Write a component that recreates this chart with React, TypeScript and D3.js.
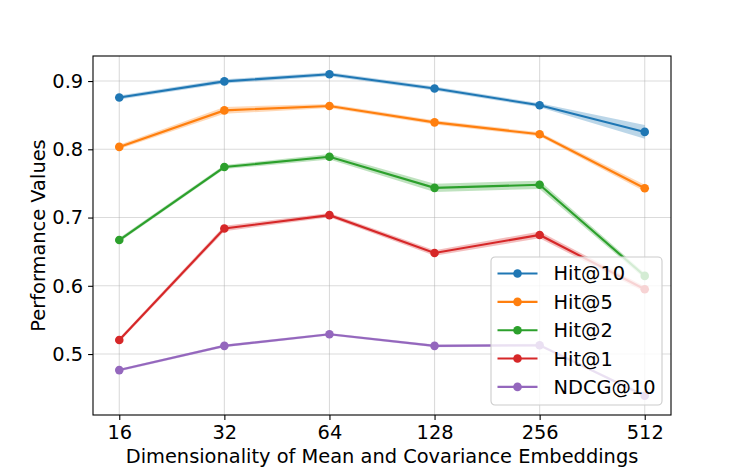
import React, { useEffect, useRef } from 'react';
import * as d3 from 'd3';

const WIDTH = 747;
const HEIGHT = 467;
const MARGIN = { top: 56, right: 76, bottom: 52, left: 93 };

const DIMS = ['16', '32', '64', '128', '256', '512'];
const HIT10 = [0.876, 0.8995, 0.91, 0.889, 0.8645, 0.8255];
const HIT5 = [0.8035, 0.857, 0.8635, 0.8395, 0.822, 0.743];
const HIT2 = [0.667, 0.774, 0.789, 0.7435, 0.748, 0.6145];
const HIT1 = [0.5205, 0.684, 0.7035, 0.648, 0.6745, 0.595];
const NDCG10 = [0.4765, 0.512, 0.529, 0.512, 0.513, 0.439];

// spread of the shaded band around each line
const HIT10_STD = [0.003, 0.003, 0.003, 0.003, 0.003, 0.01];
const HIT5_STD = [0.003, 0.005, 0.003, 0.003, 0.003, 0.005];
const HIT2_STD = [0.003, 0.003, 0.004, 0.006, 0.006, 0.004];
const HIT1_STD = [0.003, 0.004, 0.003, 0.004, 0.005, 0.004];
const NDCG10_STD = [0.002, 0.002, 0.002, 0.002, 0.002, 0.002];

const Y_TICKS = [0.5, 0.6, 0.7, 0.8, 0.9];

const SERIES = [
  { name: 'Hit@10', values: HIT10, std: HIT10_STD, color: '#1f77b4' },
  { name: 'Hit@5', values: HIT5, std: HIT5_STD, color: '#ff7f0e' },
  { name: 'Hit@2', values: HIT2, std: HIT2_STD, color: '#2ca02c' },
  { name: 'Hit@1', values: HIT1, std: HIT1_STD, color: '#d62728' },
  { name: 'NDCG@10', values: NDCG10, std: NDCG10_STD, color: '#9467bd' },
];

const FONT = 'DejaVu Sans, sans-serif';
const FS = 19.4;

const App = () => {
  const ref = useRef<SVGSVGElement>(null);

  useEffect(() => {
    const svg = d3.select(ref.current);
    svg.selectAll('*').remove();

    const w = WIDTH - MARGIN.left - MARGIN.right;
    const h = HEIGHT - MARGIN.top - MARGIN.bottom;

    const x = d3.scalePoint<string>().domain(DIMS).range([0, w]).padding(0.25);
    const y = d3.scaleLinear().domain([0.4107, 0.9367]).range([h, 0]);

    const g = svg.append('g').attr('transform', `translate(${MARGIN.left},${MARGIN.top})`);

    // grid
    g.append('g')
      .selectAll('line')
      .data(DIMS)
      .join('line')
      .attr('x1', (d) => x(d)!)
      .attr('x2', (d) => x(d)!)
      .attr('y1', 0)
      .attr('y2', h)
      .attr('stroke', '#b0b0b0')
      .attr('stroke-opacity', 0.45)
      .attr('stroke-width', 1.1);
    g.append('g')
      .selectAll('line')
      .data(Y_TICKS)
      .join('line')
      .attr('x1', 0)
      .attr('x2', w)
      .attr('y1', (d) => y(d))
      .attr('y2', (d) => y(d))
      .attr('stroke', '#b0b0b0')
      .attr('stroke-opacity', 0.45)
      .attr('stroke-width', 1.1);

    SERIES.forEach((s) => {
      const band = d3
        .area<number>()
        .x((_, i) => x(DIMS[i])!)
        .y0((d, i) => y(d - s.std[i]))
        .y1((d, i) => y(d + s.std[i]));
      g.append('path').attr('d', band(s.values)).attr('fill', s.color).attr('fill-opacity', 0.3);

      const line = d3
        .line<number>()
        .x((_, i) => x(DIMS[i])!)
        .y((d) => y(d));
      g.append('path')
        .attr('d', line(s.values))
        .attr('fill', 'none')
        .attr('stroke', s.color)
        .attr('stroke-width', 2.1);
      g.append('g')
        .selectAll('circle')
        .data(s.values)
        .join('circle')
        .attr('cx', (_, i) => x(DIMS[i])!)
        .attr('cy', (d) => y(d))
        .attr('r', 4.3)
        .attr('fill', s.color);
    });

    // axes
    const xAxis = g
      .append('g')
      .attr('transform', `translate(0,${h})`)
      .call(d3.axisBottom(x).tickSize(4.9).tickPadding(4.9));
    const yAxis = g.append('g').call(
      d3
        .axisLeft(y)
        .tickValues(Y_TICKS)
        .tickFormat(d3.format('.1f'))
        .tickSize(4.9)
        .tickPadding(4.9)
    );
    [xAxis, yAxis].forEach((a) => {
      a.attr('font-size', null).attr('font-family', null);
      a.select('.domain').remove();
      a.selectAll('line').attr('stroke', '#000').attr('stroke-width', 1.1);
      a.selectAll('text')
        .attr('font-family', FONT)
        .attr('font-size', FS)
        .style('font-size', `${FS}px`)
        .attr('fill', '#000');
    });

    // spines
    g.append('rect')
      .attr('width', w)
      .attr('height', h)
      .attr('fill', 'none')
      .attr('stroke', '#000')
      .attr('stroke-width', 1.1);

    // labels
    svg
      .append('text')
      .attr('x', MARGIN.left + w / 2)
      .attr('y', 463)
      .attr('text-anchor', 'middle')
      .attr('font-family', FONT)
      .style('font-size', `${FS}px`)
      .text('Dimensionality of Mean and Covariance Embeddings');
    svg
      .append('text')
      .attr('transform', `translate(45,${MARGIN.top + h / 2}) rotate(-90)`)
      .attr('text-anchor', 'middle')
      .attr('font-family', FONT)
      .style('font-size', `${FS}px`)
      .text('Performance Values');

    // legend
    const lg = svg.append('g').attr('transform', 'translate(491,257)');
    lg.append('rect')
      .attr('width', 171)
      .attr('height', 148)
      .attr('rx', 4)
      .attr('fill', '#fff')
      .attr('fill-opacity', 0.8)
      .attr('stroke', '#cccccc')
      .attr('stroke-width', 1.1);
    SERIES.forEach((s, i) => {
      const yy = 16.5 + i * 28.35;
      lg.append('line')
        .attr('x1', 6.5)
        .attr('x2', 46.5)
        .attr('y1', yy)
        .attr('y2', yy)
        .attr('stroke', s.color)
        .attr('stroke-width', 2.1);
      lg.append('circle').attr('cx', 26.5).attr('cy', yy).attr('r', 4.3).attr('fill', s.color);
      lg.append('text')
        .attr('x', 62.5)
        .attr('y', yy)
        .attr('dy', '0.36em')
        .attr('font-family', FONT)
        .style('font-size', `${FS}px`)
        .text(s.name);
    });
  }, []);

  return (
    <svg
      ref={ref}
      width={WIDTH}
      height={HEIGHT}
      style={{ position: 'absolute', left: 0, top: 0, background: '#fff' }}
    />
  );
};

export default App;
